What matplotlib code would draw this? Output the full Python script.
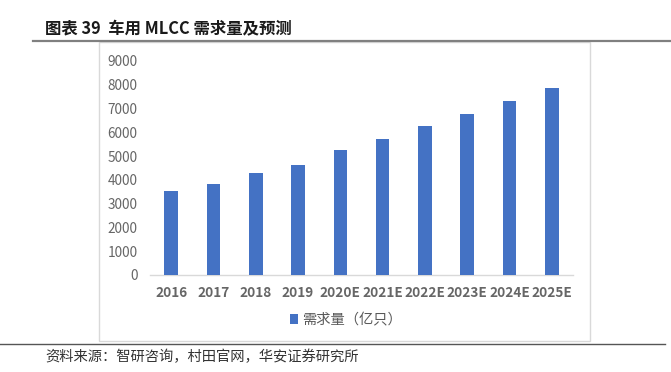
import matplotlib
matplotlib.use("Agg")
import matplotlib.pyplot as plt
from matplotlib.patches import Rectangle
from matplotlib.lines import Line2D

plt.rcParams['font.family'] = ['Noto Sans CJK SC', 'DejaVu Sans']

categories = ["2016", "2017", "2018", "2019", "2020E", "2021E", "2022E", "2023E", "2024E", "2025E"]
values = [3530, 3810, 4300, 4610, 5250, 5710, 6260, 6760, 7310, 7860]
yticks = [0, 1000, 2000, 3000, 4000, 5000, 6000, 7000, 8000, 9000]
series_name = "需求量（亿只）"
title = "图表 39  车用 MLCC 需求量及预测"
source = "资料来源：智研咨询，村田官网，华安证券研究所"

W, H = 671, 372
fig = plt.figure(figsize=(W / 100, H / 100), dpi=100)

def fx(px):
    return px / W

def fy(py):
    return 1 - py / H

# chart frame
fig.patches.append(Rectangle((fx(99), fy(341)), fx(590) - fx(99), fy(42) - fy(341),
                             transform=fig.transFigure, fill=False, edgecolor="#d9d9d9", lw=1))
# title rule and bottom rule
fig.lines.append(Line2D([fx(33), fx(671)], [fy(40.5), fy(40.5)], transform=fig.transFigure, color="#808080", lw=1.6))
fig.lines.append(Line2D([fx(0), fx(665)], [fy(343.5), fy(343.5)], transform=fig.transFigure, color="#555555", lw=1.0))

fig.text(fx(45), fy(29), title, fontsize=11.8, fontweight="bold", va="center", ha="left", color="#1a1a1a")
fig.text(fx(45), fy(357), source, fontsize=10.3, va="center", ha="left", color="#333333")

ax = fig.add_axes([fx(150), fy(275), fx(573) - fx(150), fy(61) - fy(275)])
x = list(range(len(categories)))
bars = ax.bar(x, values, width=0.32, color="#4472C4", label=series_name, zorder=3)
ax.set_xlim(-0.5, len(categories) - 0.5)
ax.set_ylim(0, 9000)
ax.set_yticks(yticks)
ax.set_yticklabels([str(v) for v in yticks])
ax.set_xticks(x)
ax.set_xticklabels(categories)
for s in ["top", "right", "left"]:
    ax.spines[s].set_visible(False)
ax.spines["bottom"].set_color("#d9d9d9")
ax.spines["bottom"].set_linewidth(1)
ax.tick_params(axis="both", length=0, colors="#595959", labelsize=9.8)
ax.tick_params(axis="y", pad=9)
ax.tick_params(axis="x", pad=8)
for lbl in ax.get_yticklabels():
    lbl.set_color("#666666")
for lbl in ax.get_xticklabels():
    lbl.set_color("#666666")
    lbl.set_fontweight("bold")

leg = fig.legend(handles=[bars], labels=[series_name], loc="center",
                 bbox_to_anchor=(fx(346), fy(320)), frameon=False, fontsize=10.3,
                 handlelength=0.6, handleheight=0.6, handletextpad=0.3)
for t in leg.get_texts():
    t.set_color("#595959")

fig.savefig("out.png", dpi=100)
